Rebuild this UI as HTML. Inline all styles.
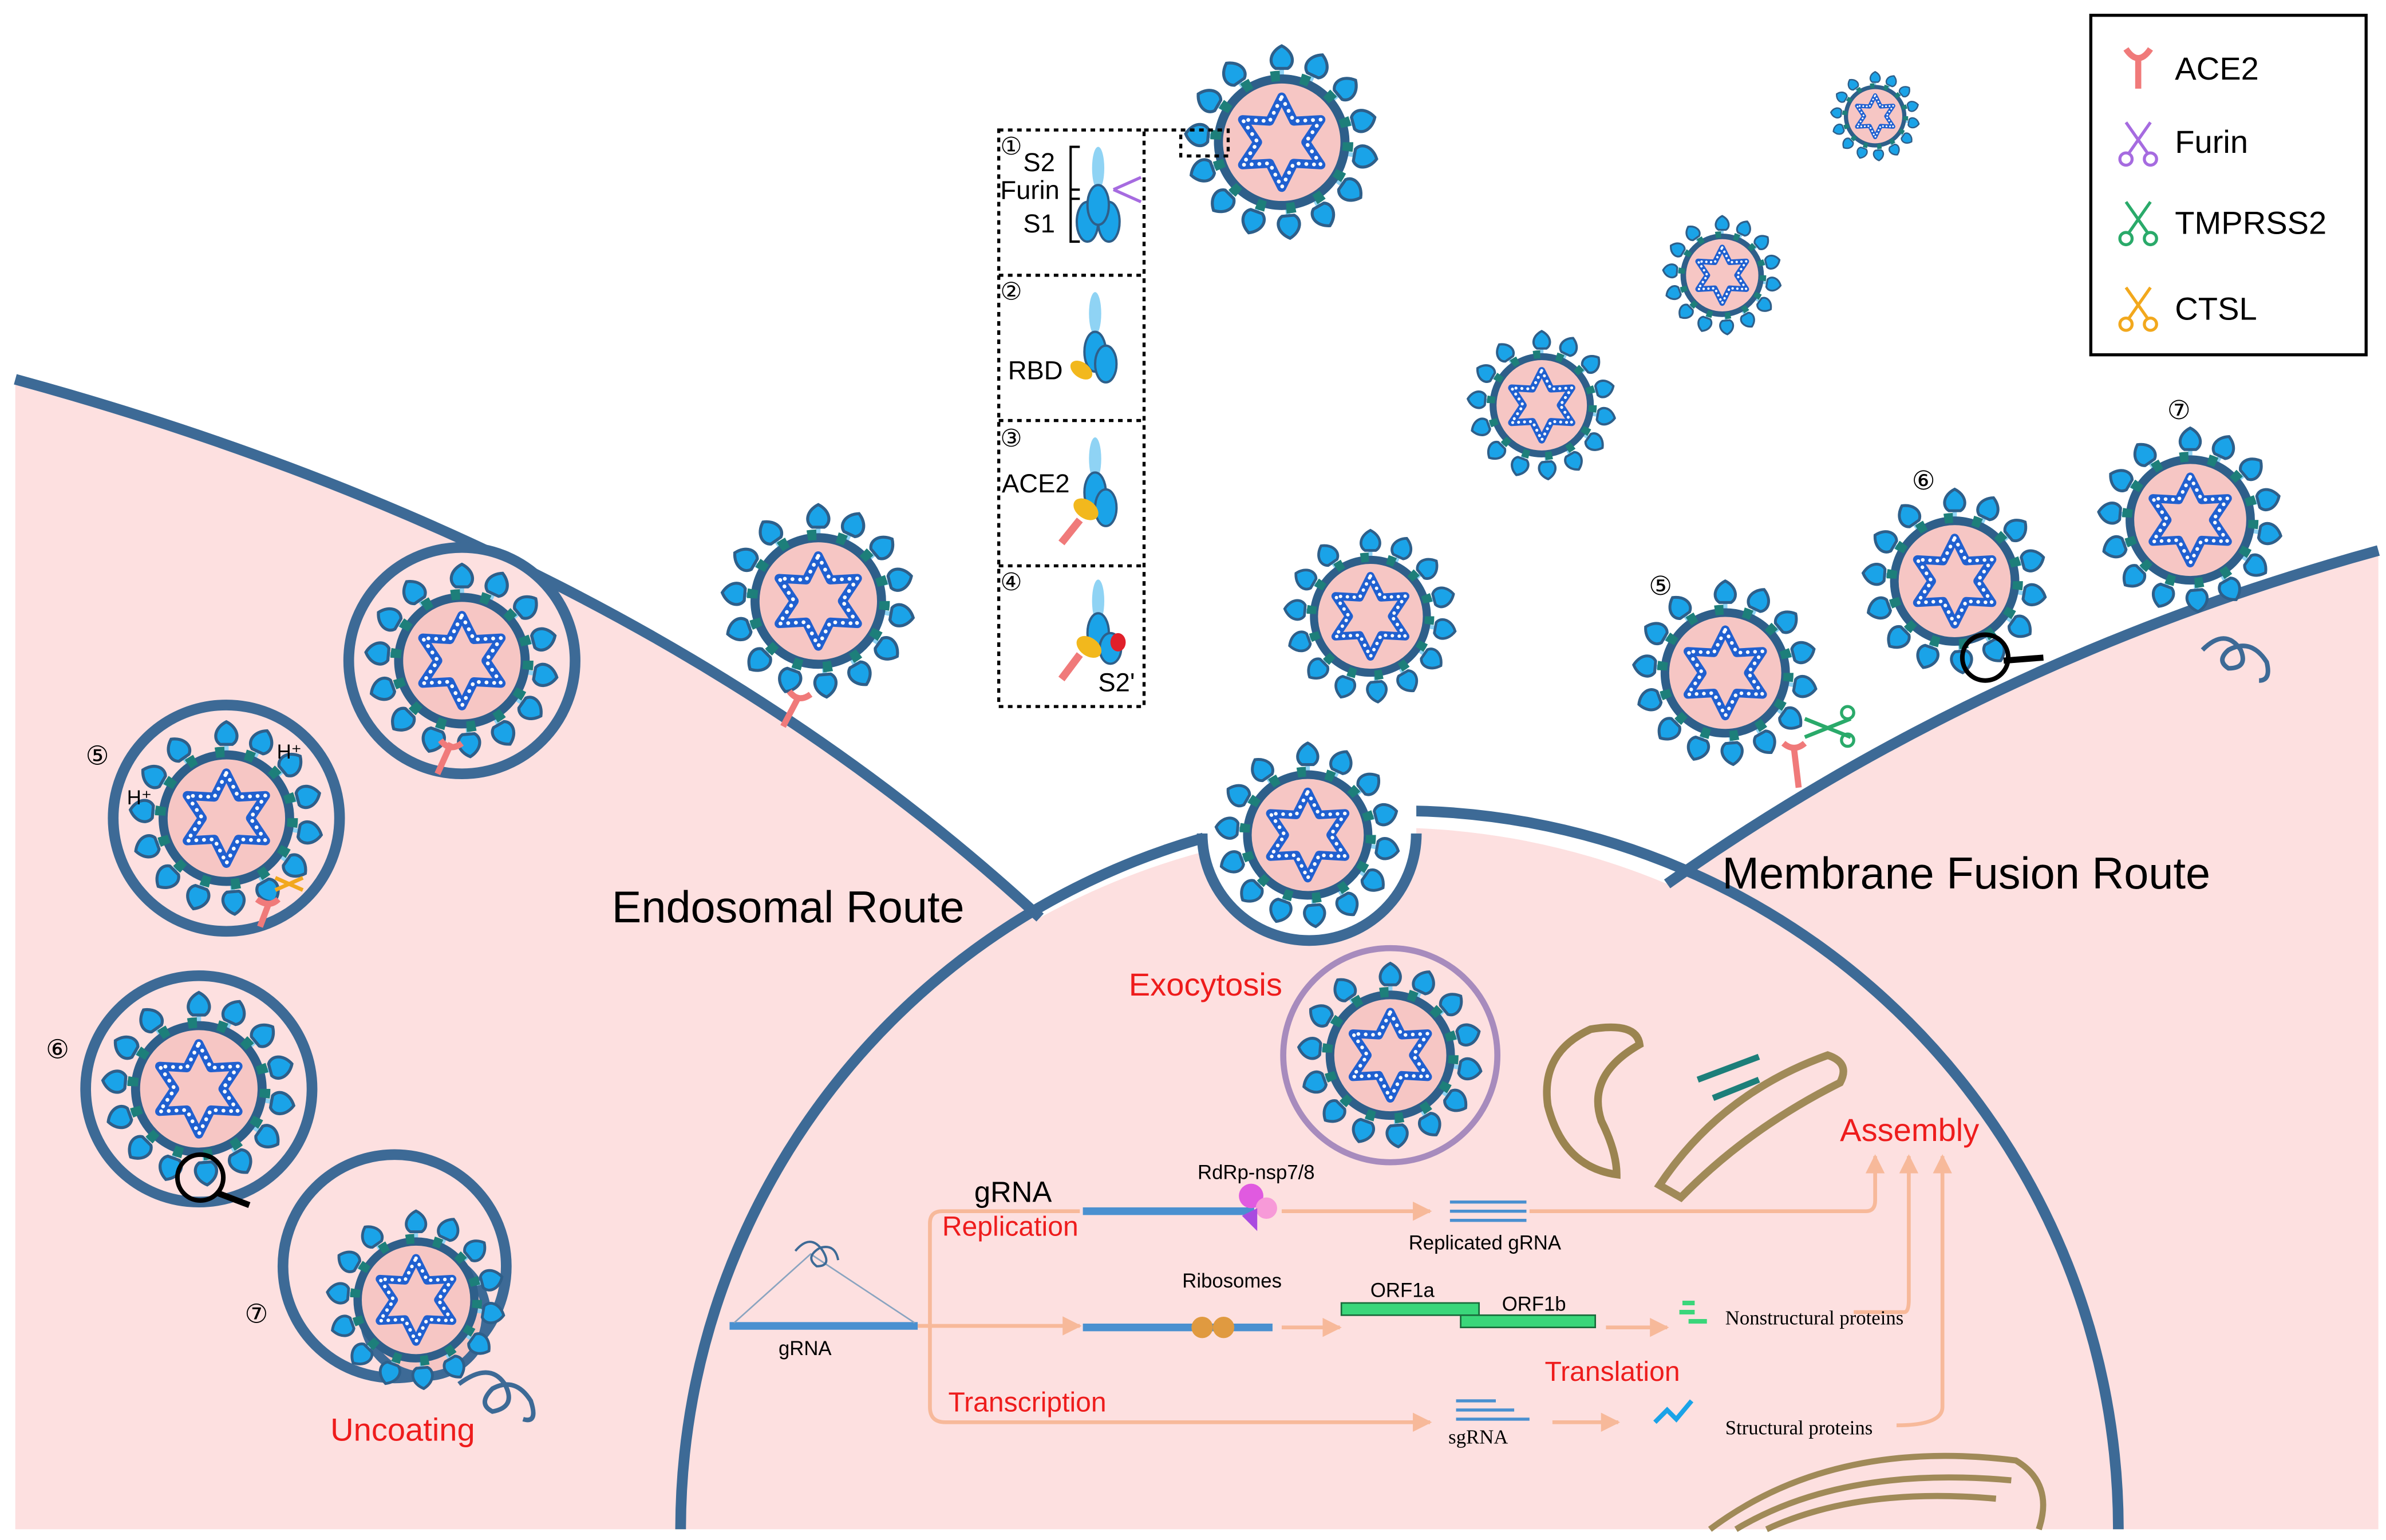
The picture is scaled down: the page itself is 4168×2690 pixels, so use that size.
<!DOCTYPE html>
<html><head><meta charset="utf-8"><style>
html,body{margin:0;padding:0;background:#fff;}
svg{display:block;}
</style></head><body>
<svg width="4168" height="2690" viewBox="0 0 1560 1007" preserveAspectRatio="none" xmlns="http://www.w3.org/2000/svg" font-family="Liberation Sans, sans-serif">
<defs>
<marker id="ah" viewBox="0 0 10 10" refX="9" refY="5" markerWidth="5" markerHeight="5" orient="auto"><path d="M0,0 L10,5 L0,10z" fill="#f7b99a"/></marker>
<symbol id="v" viewBox="-66 -66 132 132">
  <g>
    <g id="sp">
      <line x1="0" y1="-42" x2="0" y2="-52" stroke="#8fd3f4" stroke-width="3"/>
      <path d="M0,-64 C-8,-60 -9,-52 -4,-49 L4,-49 C9,-52 8,-60 0,-64Z" fill="#1aa3e8" stroke="#2e5f8a" stroke-width="2"/>
    </g>
    <use href="#sp" transform="rotate(25)"/><use href="#sp" transform="rotate(50)"/>
    <use href="#sp" transform="rotate(75)"/><use href="#sp" transform="rotate(100)"/>
    <use href="#sp" transform="rotate(125)"/><use href="#sp" transform="rotate(150)"/>
    <use href="#sp" transform="rotate(175)"/><use href="#sp" transform="rotate(200)"/>
    <use href="#sp" transform="rotate(225)"/><use href="#sp" transform="rotate(250)"/>
    <use href="#sp" transform="rotate(275)"/><use href="#sp" transform="rotate(300)"/>
    <use href="#sp" transform="rotate(325)"/>
  </g>
  <circle r="42" fill="#f6c6c4"/>
  <circle r="42" fill="none" stroke="#2e5f8a" stroke-width="6"/>
  <circle r="44" fill="none" stroke="#1d7f7a" stroke-width="7" stroke-dasharray="6 14"/>
  <path d="M0,-30 L8,-14 L26,-15 L16,0 L26,15 L8,14 L0,30 L-8,14 L-26,15 L-16,0 L-26,-15 L-8,-14Z" fill="none" stroke="#2060d0" stroke-width="6" stroke-linejoin="round"/>
  <path d="M0,-30 L8,-14 L26,-15 L16,0 L26,15 L8,14 L0,30 L-8,14 L-26,15 L-16,0 L-26,-15 L-8,-14Z" fill="none" stroke="#fff" stroke-width="2.5" stroke-dasharray="0.1 5" stroke-linecap="round"/>
</symbol>
</defs>

<path d="M10,248 Q420,360 680,600 A470,470 0 0 1 1090,578 Q1300,430 1555,360 L1555,1000 L10,1000Z" fill="#fde0e0"/>
<path d="M10,248 Q420,360 680,600" fill="none" stroke="#3d6a96" stroke-width="7"/>
<path d="M1090,578 Q1300,430 1555,360" fill="none" stroke="#3d6a96" stroke-width="7"/>
<path d="M445,1000 A470,470 0 0 1 1385,1000" fill="none" stroke="#3d6a96" stroke-width="7"/>
<path d="M786,545 A70,70 0 0 0 926,545Z" fill="#fff"/>
<rect x="786" y="520" width="140" height="26" fill="#fff"/>
<path d="M786,545 A70,70 0 0 0 926,545" fill="none" stroke="#3d6a96" stroke-width="7"/>
<use href="#v" x="793" y="484" width="124" height="124"/>

<circle cx="302" cy="432" r="74" fill="#fde0e0" stroke="#3d6a96" stroke-width="7"/>
<use href="#v" x="237" y="367" width="130" height="130"/>
<circle cx="148" cy="535" r="74" fill="#fde0e0" stroke="#3d6a96" stroke-width="7"/>
<use href="#v" x="83" y="470" width="130" height="130"/>
<circle cx="130" cy="712" r="74" fill="#fde0e0" stroke="#3d6a96" stroke-width="7"/>
<use href="#v" x="65" y="647" width="130" height="130"/>
<circle cx="258" cy="828" r="73" fill="#fde0e0" stroke="#3d6a96" stroke-width="7"/>
<circle cx="278" cy="860" r="40" fill="#f6c6c4" stroke="#3d6a96" stroke-width="6"/>
<use href="#v" x="212" y="790" width="120" height="120"/>
<path d="M300,905 q20,-15 30,0 q8,15 -8,18 q-10,-5 0,-15 q15,-8 25,8 q5,15 -5,12" fill="none" stroke="#3d6a96" stroke-width="3"/>
<circle cx="131" cy="770" r="15" fill="none" stroke="#000" stroke-width="3"/>
<line x1="142" y1="780" x2="163" y2="788" stroke="#000" stroke-width="4"/>

<circle cx="909" cy="690" r="70" fill="#fde0e0" stroke="#a78bbd" stroke-width="4"/>
<use href="#v" x="847" y="628" width="124" height="124"/>

<use href="#v" x="773" y="28" width="130" height="130"/>
<use href="#v" x="1196" y="46" width="60" height="60"/>
<use href="#v" x="1086" y="140" width="80" height="80"/>
<use href="#v" x="958" y="215" width="100" height="100"/>
<use href="#v" x="470" y="328" width="130" height="130"/>
<use href="#v" x="838" y="345" width="116" height="116"/>
<use href="#v" x="1066" y="378" width="124" height="124"/>
<use href="#v" x="1216" y="318" width="124" height="124"/>
<use href="#v" x="1370" y="278" width="124" height="124"/>
<g stroke="#f07a7a" stroke-width="4" fill="none">
<path d="M512,475 L522,456 M516,452 q6,8 14,2"/>
<path d="M286,506 L295,486 M288,484 q6,8 14,2"/>
<path d="M170,606 L176,590 M168,588 q8,6 14,0"/>
<path d="M1176,515 L1173,490 M1166,486 q7,6 14,0"/>
</g>
<path d="M1180,470 l30,12 M1180,482 l30,-12" stroke="#2aaa6a" stroke-width="2.5"/>
<circle cx="1208" cy="466" r="4" fill="none" stroke="#2aaa6a" stroke-width="2"/><circle cx="1208" cy="484" r="4" fill="none" stroke="#2aaa6a" stroke-width="2"/>
<path d="M180,574 l18,8 M180,582 l18,-8" stroke="#f2a81d" stroke-width="2.5"/>
<circle cx="1298" cy="430" r="15" fill="none" stroke="#000" stroke-width="3"/>
<line x1="1310" y1="432" x2="1336" y2="430" stroke="#000" stroke-width="4"/>
<path d="M1440,425 q15,-15 25,0 q5,12 -8,12 q-8,-5 0,-12 q15,-8 25,8 q3,12 -5,12" fill="none" stroke="#3d6a96" stroke-width="3"/>
<text x="181" y="496" font-size="13">H⁺</text><text x="83" y="526" font-size="13">H⁺</text>

<g font-size="17">
<text x="56" y="500">⑤</text><text x="30" y="692">⑥</text><text x="160" y="865">⑦</text>
<text x="1078" y="389">⑤</text><text x="1250" y="320">⑥</text><text x="1417" y="274">⑦</text>
</g>

<rect x="653" y="85" width="95" height="377" fill="#fff" stroke="#000" stroke-width="2" stroke-dasharray="3 3"/>
<g stroke="#000" stroke-width="2" stroke-dasharray="3 3">
<line x1="653" y1="180" x2="748" y2="180"/><line x1="653" y1="275" x2="748" y2="275"/><line x1="653" y1="370" x2="748" y2="370"/>
<path d="M748,85 L803,85 L803,102 L772,102 L772,85" fill="none"/>
</g>
<g font-size="16">
<text x="654" y="101">①</text><text x="654" y="196">②</text><text x="654" y="292">③</text><text x="654" y="386">④</text>
</g>
<g font-size="17">
<text x="669" y="112">S2</text><text x="654" y="130">Furin</text><text x="669" y="152">S1</text>
<text x="659" y="248">RBD</text><text x="655" y="322">ACE2</text><text x="718" y="452">S2'</text>
</g>
<path d="M706,96 h-6 v34 h6 M706,124 h-6 v34 h6" fill="none" stroke="#000" stroke-width="1.5"/>
<g fill="#1aa3e8" stroke="#2e5f8a" stroke-width="1.5">
<ellipse cx="718" cy="110" rx="4" ry="14" fill="#8fd3f4" stroke="none"/>
<ellipse cx="711" cy="145" rx="7" ry="13"/><ellipse cx="725" cy="145" rx="7" ry="13"/><ellipse cx="718" cy="134" rx="7" ry="13"/>
<ellipse cx="716" cy="205" rx="4" ry="14" fill="#8fd3f4" stroke="none"/>
<ellipse cx="716" cy="230" rx="7" ry="13"/><ellipse cx="723" cy="238" rx="7" ry="12"/>
<ellipse cx="716" cy="300" rx="4" ry="14" fill="#8fd3f4" stroke="none"/>
<ellipse cx="716" cy="322" rx="7" ry="13"/><ellipse cx="723" cy="332" rx="7" ry="12"/>
<ellipse cx="718" cy="393" rx="4" ry="14" fill="#8fd3f4" stroke="none"/>
<ellipse cx="718" cy="414" rx="7" ry="13"/><ellipse cx="726" cy="424" rx="7" ry="10"/>
</g>
<ellipse cx="707" cy="242" rx="8" ry="5" fill="#f2b81d" transform="rotate(35 707 242)"/>
<ellipse cx="710" cy="333" rx="9" ry="6" fill="#f2b81d" transform="rotate(35 710 333)"/>
<ellipse cx="712" cy="423" rx="9" ry="6" fill="#f2b81d" transform="rotate(35 712 423)"/>
<ellipse cx="731" cy="420" rx="5" ry="6" fill="#e0202a"/>
<path d="M694,355 L706,340 M694,444 L706,428" stroke="#f07a7a" stroke-width="5"/>
<path d="M728,124 l18,-8 M728,124 l18,8" stroke="#a66be0" stroke-width="2"/>

<rect x="1367" y="10" width="180" height="222" fill="#fff" stroke="#000" stroke-width="2"/>
<g font-size="21">
<text x="1422" y="52">ACE2</text><text x="1422" y="100">Furin</text><text x="1422" y="153">TMPRSS2</text><text x="1422" y="209">CTSL</text>
</g>
<path d="M1398,58 L1398,38 M1390,32 q8,12 16,0" stroke="#f07a7a" stroke-width="4" fill="none"/>
<g fill="none" stroke-width="2">
<path d="M1390,80 l14,20 M1406,80 l-14,20" stroke="#a66be0"/><circle cx="1390" cy="104" r="4" stroke="#a66be0"/><circle cx="1406" cy="104" r="4" stroke="#a66be0"/>
<path d="M1390,132 l14,20 M1406,132 l-14,20" stroke="#2aaa6a"/><circle cx="1390" cy="156" r="4" stroke="#2aaa6a"/><circle cx="1406" cy="156" r="4" stroke="#2aaa6a"/>
<path d="M1390,188 l14,20 M1406,188 l-14,20" stroke="#f2a81d"/><circle cx="1390" cy="212" r="4" stroke="#f2a81d"/><circle cx="1406" cy="212" r="4" stroke="#f2a81d"/>
</g>

<text x="400" y="603" font-size="29">Endosomal Route</text>
<text x="1126" y="581" font-size="29">Membrane Fusion Route</text>
<g fill="#ee1c1c" font-size="21">
<text x="738" y="651">Exocytosis</text><text x="216" y="942">Uncoating</text><text x="1203" y="746">Assembly</text>
</g>
<g fill="#ee1c1c" font-size="18">
<text x="616" y="808">Replication</text><text x="620" y="923">Transcription</text><text x="1010" y="903">Translation</text>
</g>

<path d="M1040,673 q30,-5 32,10 q-35,20 -25,50 q10,20 10,35 q-35,-5 -45,-45 q-5,-35 28,-50z" fill="none" stroke="#9b8450" stroke-width="5"/>
<path d="M1085,775 q40,-60 110,-85 q15,5 8,18 q-60,30 -104,75z" fill="none" stroke="#a08a58" stroke-width="5"/>
<path d="M1110,706 l40,-15 M1120,718 l30,-12" stroke="#1d7f7a" stroke-width="4"/>
<g fill="none" stroke="#a08a58" stroke-width="4">
<path d="M1118,1000 q80,-60 200,-45 q25,15 15,45"/>
<path d="M1135,1000 q70,-42 180,-32"/>
<path d="M1155,1000 q60,-28 150,-20"/>
</g>

<g stroke="#f7b99a" stroke-width="2.5" fill="none">
<path d="M600,867 L608,867 L608,800 Q608,792 616,792 L706,792"/>
<path d="M608,867 L608,920 Q608,930 618,930 L935,930" marker-end="url(#ah)"/>
<path d="M608,867 L706,867" marker-end="url(#ah)"/>
<path d="M838,792 L935,792" marker-end="url(#ah)"/>
<path d="M1000,792 L1220,792 Q1226,792 1226,785 L1226,756" marker-end="url(#ah)"/>
<path d="M838,868 L876,868" marker-end="url(#ah)"/>
<path d="M1050,868 L1090,868" marker-end="url(#ah)"/>
<path d="M1212,858 L1245,858 Q1248,858 1248,850 L1248,756" marker-end="url(#ah)"/>
<path d="M1015,930 L1058,930" marker-end="url(#ah)"/>
<path d="M1240,932 Q1270,932 1270,920 L1270,756" marker-end="url(#ah)"/>
</g>
<line x1="477" y1="867" x2="600" y2="867" stroke="#4a90d0" stroke-width="5"/>
<path d="M480,865 L530,820 L598,865" stroke="#8aa4c0" stroke-width="1" fill="none"/>
<path d="M520,818 q10,-12 18,0 q6,10 -4,10 q-8,-6 2,-12 q10,-3 12,8" stroke="#3d6a96" stroke-width="1.5" fill="none"/>
<line x1="708" y1="792" x2="820" y2="792" stroke="#4a90d0" stroke-width="5"/>
<line x1="708" y1="868" x2="832" y2="868" stroke="#4a90d0" stroke-width="5"/>
<circle cx="818" cy="782" r="8" fill="#e05ae0"/><circle cx="828" cy="790" r="7" fill="#f79ad8"/><path d="M812,795 l10,-5 l0,15 z" fill="#a94be0"/>
<circle cx="786" cy="868" r="7" fill="#e09a40"/><circle cx="800" cy="868" r="7" fill="#e09a40"/>
<g stroke="#4a90d0" stroke-width="2"><line x1="948" y1="786" x2="998" y2="786"/><line x1="948" y1="792" x2="998" y2="792"/><line x1="948" y1="798" x2="998" y2="798"/>
<line x1="952" y1="916" x2="978" y2="916"/><line x1="952" y1="922" x2="990" y2="922"/><line x1="952" y1="928" x2="1000" y2="928"/></g>
<rect x="877" y="852" width="90" height="8" fill="#3ad67a" stroke="#186a3a" stroke-width="1"/>
<rect x="955" y="860" width="88" height="8" fill="#3ad67a" stroke="#186a3a" stroke-width="1"/>
<path d="M1098,858 h10 M1104,864 h12 M1100,852 h8" stroke="#3ad67a" stroke-width="3"/>
<path d="M1082,930 l8,-8 l6,6 l10,-12" stroke="#1aa3e8" stroke-width="3" fill="none"/>
<g font-size="13"><text x="509" y="886">gRNA</text><text x="783" y="771">RdRp-nsp7/8</text><text x="921" y="817">Replicated gRNA</text>
<text x="773" y="842">Ribosomes</text><text x="896" y="848">ORF1a</text><text x="982" y="857">ORF1b</text></g>
<text x="637" y="786" font-size="19">gRNA</text>
<g style="font-family:'Liberation Serif',serif" font-size="13"><text x="1128" y="866">Nonstructural proteins</text>
<text x="1128" y="938">Structural proteins</text><text x="947" y="944">sgRNA</text></g>
</svg>
</body></html>
